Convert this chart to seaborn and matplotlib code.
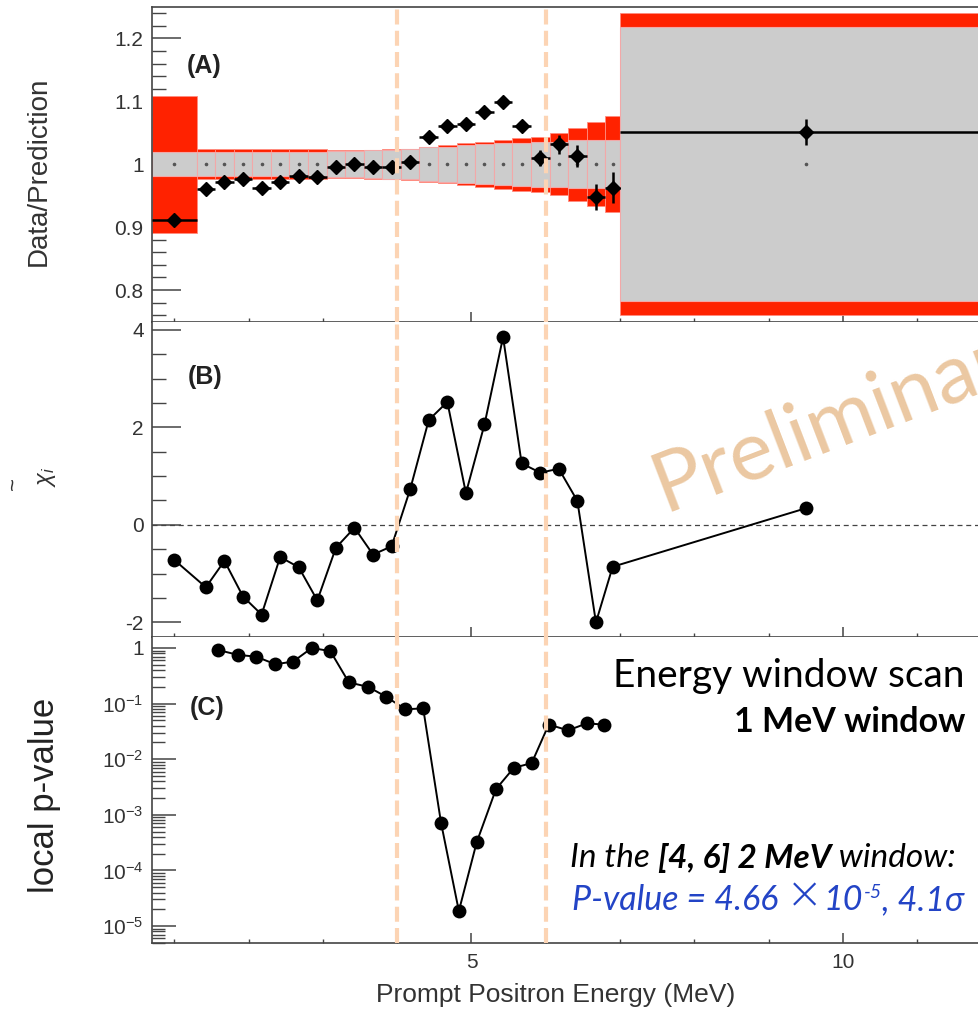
import numpy as np
import pandas as pd
import matplotlib
matplotlib.use("Agg")
import matplotlib.pyplot as plt
import seaborn as sns
from matplotlib.ticker import MultipleLocator, FixedLocator, FuncFormatter, LogLocator, NullFormatter

# ---- data ----
bin_edges = [0.7, 1.3, 1.55, 1.8, 2.05, 2.3, 2.55, 2.8, 3.05, 3.3, 3.55, 3.8, 4.05,
             4.3, 4.55, 4.8, 5.05, 5.3, 5.55, 5.8, 6.05, 6.3, 6.55, 6.8, 7.0, 12.0]

ratio = [0.911, 0.960, 0.971, 0.976, 0.963, 0.972, 0.981, 0.979, 0.995, 1.000, 0.995, 0.996,
         1.004, 1.043, 1.061, 1.064, 1.083, 1.099, 1.061, 1.010, 1.032, 1.013, 0.948, 0.963, 1.051]
ratio_err = [0.006, 0.004, 0.004, 0.004, 0.004, 0.004, 0.004, 0.004, 0.004, 0.004, 0.004, 0.004,
             0.005, 0.005, 0.005, 0.006, 0.006, 0.007, 0.008, 0.012, 0.015, 0.017, 0.020, 0.025, 0.021]
# inner (grey) and total (red) prediction uncertainty
inner_err = [0.019, 0.019, 0.019, 0.019, 0.019, 0.019, 0.019, 0.019, 0.021, 0.021, 0.022, 0.023,
             0.024, 0.027, 0.028, 0.030, 0.032, 0.033, 0.034, 0.036, 0.036, 0.038, 0.038, 0.039, 0.218]
total_err = [0.109, 0.024, 0.024, 0.024, 0.024, 0.024, 0.024, 0.024, 0.022, 0.022, 0.023, 0.024,
             0.025, 0.028, 0.030, 0.033, 0.036, 0.039, 0.042, 0.044, 0.049, 0.058, 0.067, 0.076, 0.240]

chi = [-0.72, -1.28, -0.74, -1.47, -1.84, -0.66, -0.87, -1.55, -0.47, -0.06, -0.61, -0.44,
       0.73, 2.15, 2.52, 0.65, 2.06, 3.85, 1.26, 1.07, 1.15, 0.49, -2.0, -0.86, 0.34]

scan_e = [1.59, 1.86, 2.10, 2.36, 2.60, 2.85, 3.10, 3.35, 3.61, 3.85, 4.11, 4.35,
          4.59, 4.83, 5.07, 5.33, 5.57, 5.81, 6.04, 6.30, 6.55, 6.78]
scan_p = [0.92, 0.75, 0.70, 0.51, 0.57, 1.0, 0.88, 0.24, 0.20, 0.133, 0.079, 0.082,
          7.2e-4, 1.86e-5, 3.2e-4, 2.9e-3, 7.0e-3, 8.5e-3, 0.042, 0.033, 0.044, 0.042]

window_lines = [4, 6]

edges = np.array(bin_edges)
centers = (edges[:-1] + edges[1:]) / 2
half_w = (edges[1:] - edges[:-1]) / 2
df_b = pd.DataFrame({"E": centers, "chi": chi})
df_c = pd.DataFrame({"E": scan_e, "p": scan_p})

# ---- style ----
sns.set_theme(style="ticks")
plt.rcParams["font.family"] = ["Liberation Sans", "DejaVu Sans"]
plt.rcParams["mathtext.fontset"] = "custom"
plt.rcParams["mathtext.rm"] = "Liberation Sans"
plt.rcParams["mathtext.it"] = "Liberation Sans:italic"
plt.rcParams["mathtext.bf"] = "Liberation Sans:bold"
plt.rcParams["axes.unicode_minus"] = False

W, H = 979, 1010
fig = plt.figure(figsize=(W / 100, H / 100), dpi=100)


def fx(px):
    return px / W


def fy(py):
    return 1 - py / H


left = fx(152)
ax_a = fig.add_axes([left, fy(321.5), 1 - left, (321.5 - 7) / H])
ax_b = fig.add_axes([left, fy(636.5), 1 - left, (636.5 - 321.5) / H])
ax_c = fig.add_axes([left, fy(943), 1 - left, (943 - 636.5) / H])

spine_c = "#444444"
peach = "#FCD4B4"
red = "#FF2200"
grey = "#CCCCCC"

for ax in (ax_a, ax_b, ax_c):
    ax.set_xlim(0.7, 0.7 + (979 - 152) / 74.3)
    for s in ("left", "bottom"):
        ax.spines[s].set_color(spine_c)
        ax.spines[s].set_linewidth(1.2)
    ax.spines["right"].set_visible(False)
    ax.spines["top"].set_visible(False)
    ax.xaxis.set_major_locator(MultipleLocator(5))
    ax.xaxis.set_minor_locator(MultipleLocator(1))
    ax.tick_params(axis="x", which="major", direction="in", length=7, width=1.1, color=spine_c,
                   labelsize=15, labelcolor="#333333", pad=7, top=False, bottom=True)
    ax.tick_params(axis="x", which="minor", direction="in", length=3, width=1.0, color=spine_c,
                   top=False, bottom=True)
    ax.tick_params(axis="y", which="major", direction="in", length=21, width=1.1, color=spine_c,
                   labelsize=15, labelcolor="#333333", pad=6, right=False, left=True)
    ax.tick_params(axis="y", which="minor", direction="in", length=10, width=1.0, color=spine_c,
                   right=False, left=True)
    for xv in window_lines:
        ax.axvline(xv, color=peach, lw=3, ls=(0, (3.6, 1.5)), zorder=6)

ax_a.spines["top"].set_visible(True)
ax_a.spines["top"].set_color(spine_c)
ax_a.spines["top"].set_linewidth(1.2)
ax_a.tick_params(labelbottom=False)
ax_b.tick_params(labelbottom=False)

# ---- (A) data / prediction ----
tot = np.array(total_err)
inn = np.array(inner_err)
ax_a.bar(centers, 2 * tot, bottom=1 - tot, width=2 * half_w, color=red, edgecolor="#FF8C80",
         linewidth=0.6, zorder=1)
ax_a.bar(centers, 2 * inn, bottom=1 - inn, width=2 * half_w, color=grey, edgecolor="#F2A8A8",
         linewidth=0.8, zorder=2)
ax_a.plot(centers, np.ones_like(centers), ls="none", marker="o", ms=1.6, color="#555555", zorder=3)
ax_a.errorbar(centers, ratio, xerr=half_w, yerr=ratio_err, fmt="D", ms=7, color="black",
              elinewidth=1.8, capsize=0, zorder=4)
ax_a.set_ylim(0.75, 1.25)
ax_a.yaxis.set_major_locator(FixedLocator([0.8, 0.9, 1.0, 1.1, 1.2]))
ax_a.yaxis.set_major_formatter(FuncFormatter(lambda v, p: "1" if abs(v - 1) < 1e-9 else f"{v:.1f}"))
ax_a.yaxis.set_minor_locator(MultipleLocator(0.02))

# ---- (B) chi ----
ax_b.axhline(0, color="#444444", lw=0.9, ls=(0, (4, 3)), zorder=1)
sns.lineplot(data=df_b, x="E", y="chi", ax=ax_b, color="black", lw=1.4, marker="o", ms=10,
             markeredgewidth=0, sort=False, zorder=4)
ax_b.set_ylim(-2.29, 4.17)
ax_b.yaxis.set_major_locator(MultipleLocator(2))
ax_b.yaxis.set_minor_locator(MultipleLocator(0.5))

# ---- (C) local p-value ----
sns.lineplot(data=df_c, x="E", y="p", ax=ax_c, color="black", lw=1.4, marker="o", ms=10,
             markeredgewidth=0, sort=False, zorder=4)
ax_c.set_yscale("log")
ax_c.set_ylim(4.94e-6, 1.61)
ax_c.yaxis.set_major_locator(LogLocator(base=10, numticks=12))
ax_c.yaxis.set_minor_locator(LogLocator(base=10, subs=np.arange(2, 10), numticks=12))
ax_c.yaxis.set_minor_formatter(NullFormatter())
ax_c.yaxis.set_major_formatter(FuncFormatter(
    lambda v, p: "1" if abs(v - 1) < 1e-9 else r"$10^{%d}$" % round(np.log10(v))))
ax_c.tick_params(axis="y", which="major", length=17)
ax_c.tick_params(axis="y", which="minor", length=9)

for ax in (ax_a, ax_b, ax_c):
    ax.set_xlabel("")
    ax.set_ylabel("")

# ---- panel tags ----
for tag, px, py in (("(A)", 204, 66), ("(B)", 205, 377), ("(C)", 207, 708)):
    fig.text(fx(px), fy(py), tag, ha="center", va="center", fontsize=18, fontweight="bold", color="#222222")

# ---- axis labels ----
fig.text(fx(39), fy(171), "Data/Prediction", rotation=90, ha="center", va="center",
         fontsize=20, color="#333333")
fig.text(fx(13), fy(483), "~", rotation=90, ha="center", va="center", fontsize=16, color="#333333")
fig.text(fx(47), fy(477), r"$\chi_{i}$", rotation=90, ha="center", va="center", fontsize=17, color="#333333")
fig.text(fx(45), fy(795), "local p-value", rotation=90, ha="center", va="center",
         fontsize=25, color="#222222")
fig.text(fx(556), fy(995), "Prompt Positron Energy (MeV)", ha="center", va="center",
         fontsize=19, color="#333333")

# ---- watermark ----
lato = ["Lato", "DejaVu Sans"]
fig.text(fx(664), fy(511), "Preliminary", rotation=21, rotation_mode="anchor", ha="left",
         va="baseline", fontsize=60, family=lato, color="#EBC8A2", zorder=10)

# ---- annotations ----
fig.text(fx(965), fy(687), "Energy window scan", ha="right", va="baseline", fontsize=28,
         family=lato, color="black")
fig.text(fx(965), fy(732), "1 MeV window", ha="right", va="baseline", fontsize=24.5,
         family=lato, fontweight="bold", color="black")

t = fig.text(fx(570), fy(867), "In the ", ha="left", va="baseline", fontsize=24, family=lato,
             style="italic", color="black")
t = ax_c.annotate("[4, 6] 2 MeV", xy=(1, 0), xycoords=t, ha="left", va="bottom", fontsize=24,
                  family=lato, style="italic", fontweight="bold", color="black")
t = ax_c.annotate(" window:", xy=(1, 0), xycoords=t, ha="left", va="bottom", fontsize=24,
                  family=lato, style="italic", color="black")

blue = "#2344C6"
t0 = fig.text(fx(572), fy(910), "P-value = 4.66 ", ha="left", va="baseline", fontsize=24.5,
              family=lato, style="italic", color=blue)
tx = ax_c.annotate("\u00d7", xy=(1, 0), xycoords=t0, xytext=(0, -1), textcoords="offset points",
                   ha="left", va="bottom", fontsize=32, family=["DejaVu Sans"],
                   fontweight="ultralight", color=blue)
t10 = ax_c.annotate("10", xy=(1, 0), xycoords=(tx, t0), ha="left", va="bottom", fontsize=24.5,
                    family=lato, style="italic", color=blue)
sup = ax_c.annotate("-5", xy=(1, 0), xycoords=t10, xytext=(0.5, 11), textcoords="offset points",
                    ha="left", va="bottom", fontsize=14, family=lato, style="italic", color=blue)
ax_c.annotate(", 4.1\u03c3", xy=(1, 0), xycoords=(sup, t10), ha="left", va="bottom", fontsize=24.5,
              family=lato, style="italic", color=blue)

fig.savefig("out.png", dpi=100)
